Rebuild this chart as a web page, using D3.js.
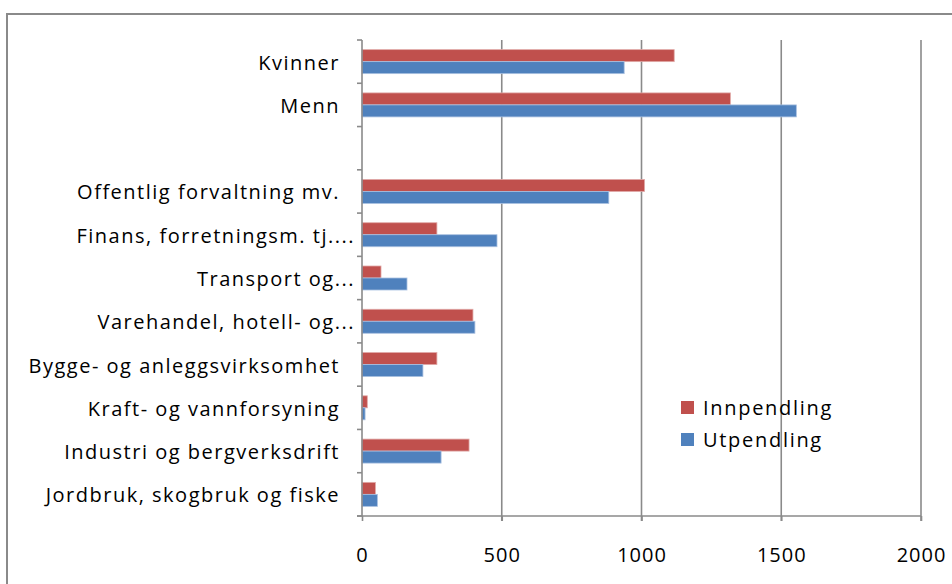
<!DOCTYPE html>
<html>
<head>
<meta charset="utf-8">
<script src="https://cdn.jsdelivr.net/npm/d3@7"></script>
<style>
  body { margin: 0; background: #fff; }
  text { font-family: "Open Sans", sans-serif; fill: #000; }
</style>
</head>
<body>
<script>
var width = 952,
    height = 584;

// categories top to bottom ("" = empty slot in the chart)
var categories = ["Kvinner", "Menn", "", "Offentlig forvaltning mv.", "Finans, forretningsm. tj....",
    "Transport og...", "Varehandel, hotell- og...", "Bygge- og anleggsvirksomhet",
    "Kraft- og vannforsyning", "Industri og bergverksdrift", "Jordbruk, skogbruk og fiske"];
var innpendling = [1117, 1318, null, 1011, 268, 68, 397, 268, 19, 383, 48];
var utpendling  = [938, 1554, null, 883, 483, 161, 404, 218, 11, 283, 55];
var seriesNames = ["Innpendling", "Utpendling"];
var seriesColors = ["#C0504D", "#4F81BD"];
var xTicks = [0, 500, 1000, 1500, 2000];

var svg = d3.select("body")
    .append("svg")
    .attr("width", width)
    .attr("height", height);

// outer chart frame (runs off the right/bottom edge)
svg.append("rect")
    .attr("x", 7).attr("y", 14)
    .attr("width", 980).attr("height", 600)
    .attr("fill", "none")
    .attr("stroke", "#8a8a8a")
    .attr("stroke-width", 2);

var x = d3.scaleLinear().domain([0, 2000]).range([362, 921]);
var y = d3.scaleBand().domain(d3.range(categories.length)).range([40, 516]);
var barH = 12;

// gridlines
svg.selectAll(".grid")
    .data(xTicks.slice(1))
    .enter().append("line")
    .attr("x1", function(d) { return x(d); })
    .attr("x2", function(d) { return x(d); })
    .attr("y1", 40).attr("y2", 521)
    .attr("stroke", "#8a8a8a")
    .attr("stroke-width", 1.6);

var rows = categories.map(function(c, i) {
    return { i: i, label: c, vals: [innpendling[i], utpendling[i]] };
});

// bars
var row = svg.selectAll(".row")
    .data(rows)
    .enter().append("g")
    .attr("transform", function(d) { return "translate(0," + (y(d.i) + y.bandwidth() / 2 - barH) + ")"; });

row.selectAll("rect")
    .data(function(d) { return d.vals.map(function(v, k) { return { v: v, k: k }; }).filter(function(e) { return e.v != null; }); })
    .enter().append("rect")
    .attr("x", x(0))
    .attr("y", function(d) { return d.k * barH; })
    .attr("width", function(d) { return x(d.v) - x(0); })
    .attr("height", barH)
    .attr("fill", function(d) { return seriesColors[d.k]; })
    .attr("stroke", function(d) { return d.k == 0 ? "#e0a9a7" : "#a9c0e0"; })
    .attr("stroke-width", 0.8);

// category labels
row.append("text")
    .attr("x", function(d) { return x(0) - 22 + (d.label.endsWith("...") ? 15 : 0); })
    .attr("y", barH + 1)
    .attr("dy", "0.35em")
    .attr("text-anchor", "end")
    .style("font-size", "20px")
    .style("letter-spacing", "1.5px")
    .text(function(d) { return d.label; });

// axes
var yAxis = svg.append("g");
yAxis.append("line")
    .attr("x1", x(0)).attr("x2", x(0))
    .attr("y1", 40).attr("y2", 516)
    .attr("stroke", "#8a8a8a").attr("stroke-width", 1.6);
yAxis.selectAll(".tick")
    .data(d3.range(categories.length + 1))
    .enter().append("line")
    .attr("x1", x(0) - 5).attr("x2", x(0))
    .attr("y1", function(d) { return 40 + d * y.step(); })
    .attr("y2", function(d) { return 40 + d * y.step(); })
    .attr("stroke", "#8a8a8a").attr("stroke-width", 1.6);

var xAxis = svg.append("g")
    .attr("transform", "translate(0,516)")
    .call(d3.axisBottom(x).tickValues(xTicks).tickFormat(d3.format("d"))
        .tickSize(5).tickSizeOuter(0).tickPadding(27));
xAxis.select(".domain").attr("stroke", "#8a8a8a").attr("stroke-width", 1.6)
    .attr("d", "M" + (x(0) - 5) + ",0H" + x(2000));
xAxis.selectAll(".tick line").attr("stroke", "#8a8a8a").attr("stroke-width", 1.6);
xAxis.selectAll("text")
    .style("font-size", "20px")
    .style("letter-spacing", "1px")
    .style("font-family", "Open Sans, sans-serif")
    .attr("fill", "#000");

// legend
var legend = svg.selectAll(".legend")
    .data(seriesNames)
    .enter().append("g")
    .attr("transform", function(d, i) { return "translate(681," + (401 + i * 32) + ")"; });
legend.append("rect")
    .attr("width", 13).attr("height", 13)
    .attr("fill", function(d, i) { return seriesColors[i]; });
legend.append("text")
    .attr("x", 22).attr("y", 7)
    .attr("dy", "0.35em")
    .style("font-size", "20px")
    .style("letter-spacing", "1.7px")
    .text(function(d) { return d; });
</script>
</body>
</html>
